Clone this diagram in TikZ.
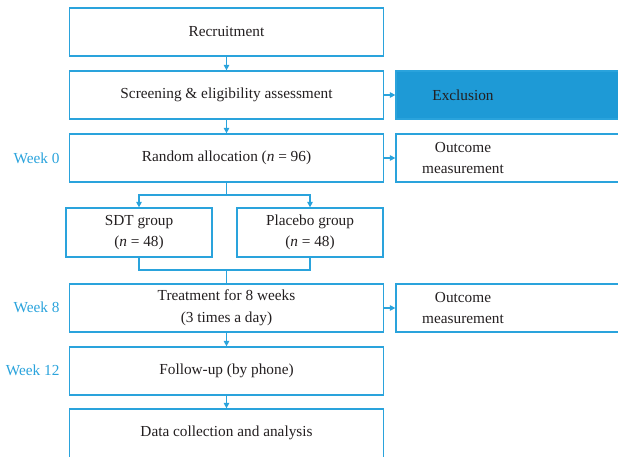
\documentclass[tikz,border=0pt]{standalone}
\usepackage{fontspec}
\setmainfont{Liberation Serif}
\usetikzlibrary{arrows.meta}
\definecolor{ln}{HTML}{2AA3DC}
\definecolor{fillb}{HTML}{1E9AD6}
\definecolor{txt}{HTML}{231F20}
\begin{document}
\begin{tikzpicture}[x=1pt,y=-1pt,
  txtf/.style={text=txt, font=\fontsize{15.3}{21.5}\selectfont},
  box/.style={draw=ln, line width=1.3pt, fill=white, inner sep=0pt, align=center, txtf},
  mainbox/.style={box, minimum width=314pt, minimum height=48pt},
  sidebox/.style={box, minimum width=244pt, minimum height=48pt},
  grpbox/.style={box, minimum width=146pt, minimum height=49pt},
  week/.style={anchor=east, text=ln, font=\fontsize{15.3}{19}\selectfont},
  conn/.style={draw=ln, line width=1.3pt},
  arr/.style={conn, -{Triangle[length=5.5pt,width=5.5pt]}}]
\useasboundingbox (0,0) rectangle (618,457);
\clip (0,0) rectangle (618,457);
% main column
\node[mainbox] (rec) at (226.5,32) {Recruitment};
\node[mainbox] (scr) at (226.5,95) {Screening \& eligibility assessment};
\node[mainbox] (ran) at (226.5,158) {Random allocation (\textit{n} = 96)};
\node[grpbox] (sdt) at (139,232.5) {SDT group\\(\textit{n} = 48)};
\node[grpbox] (pla) at (310,232.5) {Placebo group\\(\textit{n} = 48)};
\node[mainbox] (tre) at (226.5,308) {Treatment for 8 weeks\\(3 times a day)};
\node[mainbox] (fol) at (226.5,371) {Follow-up (by phone)};
\node[mainbox, minimum height=56pt] (dat) at (226.5,437) {};
\node[txtf] (datt) at (226.5,433) {Data collection and analysis};
% side column
\node[sidebox, fill=fillb, label={[txtf, xshift=-55pt]center:Exclusion}] (exc) at (518,95) {};
\node[sidebox, label={[txtf, xshift=-55pt, align=center]center:Outcome\\measurement}] (out1) at (518,158) {};
\node[sidebox, label={[txtf, xshift=-55pt, align=center]center:Outcome\\measurement}] (out2) at (518,308) {};
% week labels
\node[week] (w0) at (63,158) {Week 0};
\node[week] (w8) at (63,307) {Week 8};
\node[week] (w12) at (63,370) {Week 12};
% connectors
\draw[arr] (rec.south) -- (scr.north);
\draw[arr] (scr.south) -- (ran.north);
\draw[arr] (scr.east) -- (exc.west);
\draw[arr] (ran.east) -- (out1.west);
\draw[arr] (tre.east) -- (out2.west);
\coordinate (br) at (226.5,195);
\draw[conn] (ran.south) -- (br);
\draw[arr] (br) -| (sdt.north);
\draw[arr] (br) -| (pla.north);
\coordinate (mg) at (226.5,270);
\draw[conn] (sdt.south) |- (mg) -| (pla.south);
\draw[conn] (mg) -- (tre.north);
\draw[arr] (tre.south) -- (fol.north);
\draw[arr] (fol.south) -- (dat.north);
\end{tikzpicture}
\end{document}
